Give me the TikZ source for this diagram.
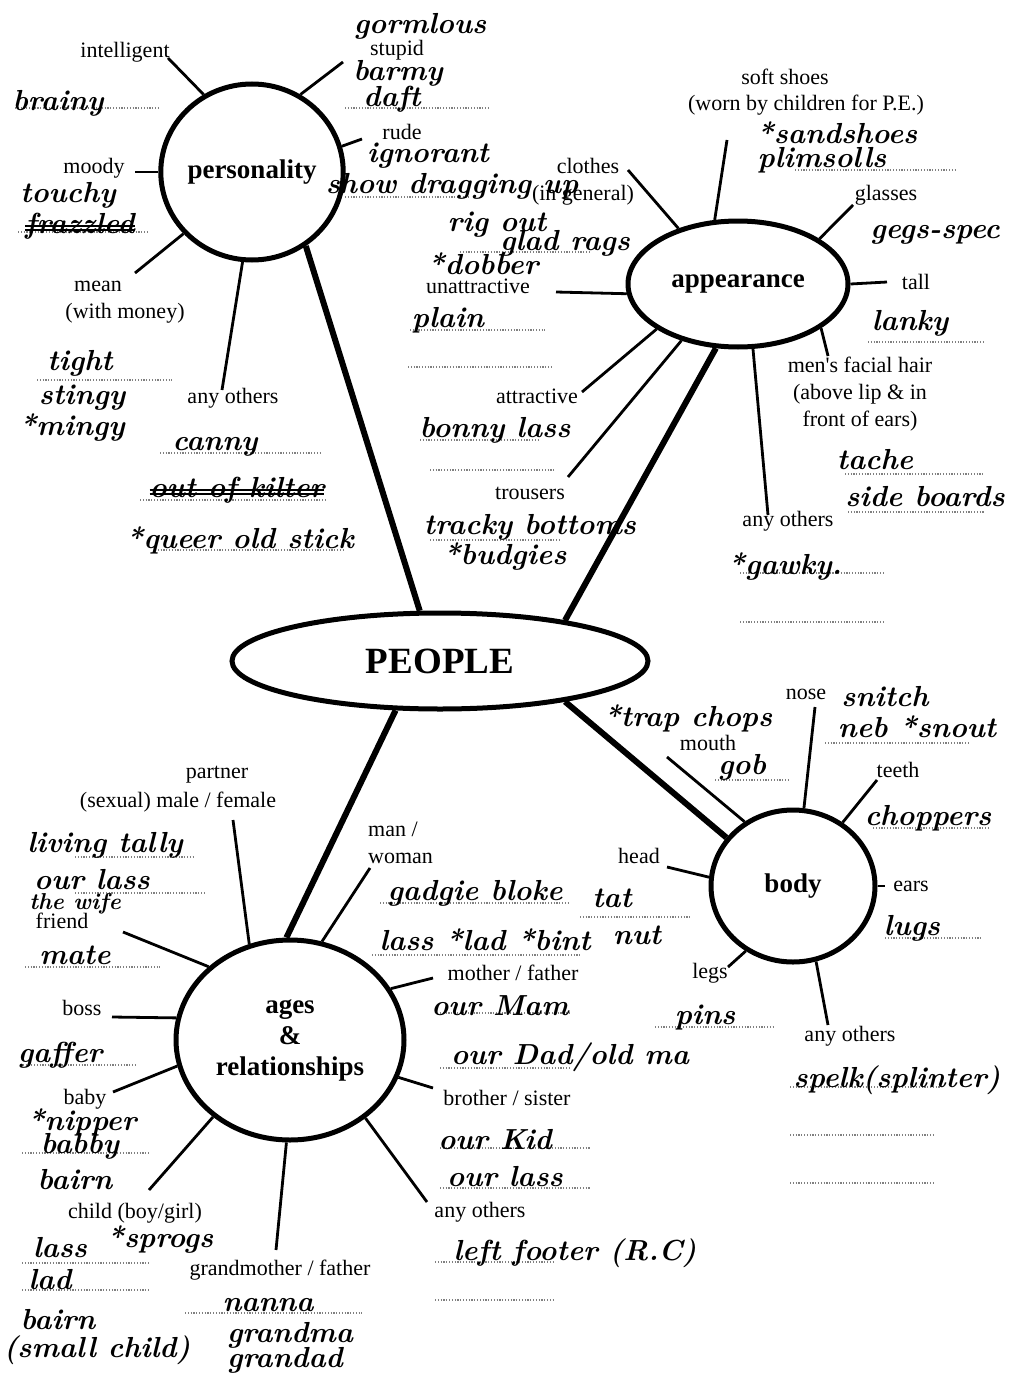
\documentclass[tikz,border=0pt]{standalone}
\usepackage{fontspec}
\newfontfamily\printfont{Liberation Serif}
\usetikzlibrary{shapes.geometric}

\tikzset{
  hub/.style={draw, ellipse, line width=5pt, inner sep=0pt, align=center,
    font=\printfont\bfseries\fontsize{27}{31}\selectfont},
  lbl/.style={inner sep=0pt, align=center, font=\printfont\fontsize{22}{27}\selectfont},
  hand/.style={inner sep=0pt, font=\bfseries\itshape\fontsize{29}{30}\selectfont},
  spoke/.style={line width=2.8pt},
  trunk/.style={line width=6pt},
  answer/.style={line width=1.3pt, black!50, dash pattern=on 1.2pt off 1.6pt},
  strike/.style={line width=2.2pt},
}

\begin{document}
\begin{tikzpicture}[x=1pt, y=-1pt]

  % page with its margins
  \useasboundingbox[fill=white] (0,0) rectangle (1015,1378);

  % the five ovals
  \node[hub, minimum width=176pt, minimum height=176pt] (persona) at (252,172) {personality};
  \node[hub, minimum width=220pt, minimum height=126pt] (appear) at (738,284) {appearance};
  \node[hub, minimum width=416pt, minimum height=96pt,
    font=\printfont\bfseries\fontsize{37}{40}\selectfont] (people) at (440,661) {PEOPLE};
  \node[hub, minimum width=164pt, minimum height=152pt] (body) at (793,886) {body};
  \node[hub, minimum width=228pt, minimum height=200pt] (ages) at (290,1040) {ages\\\&\\relationships};

  % thick links from PEOPLE
  \draw[trunk] (people.112) -- (persona.306);
  \draw[trunk] (people.18)  -- (appear.251);
  \draw[trunk] (people.342) -- (body.144);
  \draw[trunk] (people.228) -- (ages.92);

  % free ends of the thin spokes
  \coordinate (c-intel)   at (168,58);
  \coordinate (c-stupid)  at (343,62);
  \coordinate (c-rude)    at (362,139);
  \coordinate (c-moody)   at (135,172);
  \coordinate (c-mean)    at (135,273);
  \coordinate (c-pothers) at (222,390);
  \coordinate (c-soft)    at (727,140);
  \coordinate (c-clothes) at (628,170);
  \coordinate (c-glasses) at (853,205);
  \coordinate (c-tall)    at (887,282);
  \coordinate (c-unattr)  at (556,292);
  \coordinate (c-facial)  at (828,356);
  \coordinate (c-aothers) at (768,515);
  \coordinate (c-attr)    at (582,392);
  \coordinate (c-trous)   at (568,477);
  \coordinate (c-nose)    at (815,707);
  \coordinate (c-mouth)   at (667,757);
  \coordinate (c-teeth)   at (877,780);
  \coordinate (c-head)    at (667,867);
  \coordinate (c-ears)    at (885,886);
  \coordinate (c-legs)    at (728,967);
  \coordinate (c-bothers) at (828,1025);
  \coordinate (c-partner) at (233,820);
  \coordinate (c-man)     at (370,868);
  \coordinate (c-friend)  at (123,932);
  \coordinate (c-boss)    at (112,1017);
  \coordinate (c-mother)  at (433,978);
  \coordinate (c-brother) at (433,1088);
  \coordinate (c-baby)    at (113,1092);
  \coordinate (c-child)   at (149,1190);
  \coordinate (c-grand)   at (276,1250);
  \coordinate (c-rothers) at (427,1202);

  % thin spokes
  \foreach \hub/\ang/\tip in {persona/122/c-intel, persona/58/c-stupid, persona/16/c-rude,
      persona/180/c-moody, persona/222/c-mean, persona/264/c-pothers,
      appear/110/c-soft, appear/137/c-clothes, appear/29/c-glasses, appear/0/c-tall,
      appear/185/c-unattr, appear/332/c-facial, appear/283/c-aothers,
      appear/209/c-attr, appear/225/c-trous,
      body/82/c-nose, body/127/c-mouth, body/52/c-teeth, body/174/c-head,
      body/0/c-ears, body/234/c-legs, body/287/c-bothers,
      ages/113/c-partner, ages/72/c-man, ages/138/c-friend, ages/169/c-boss,
      ages/27/c-mother, ages/341/c-brother, ages/193/c-baby, ages/225/c-child,
      ages/268/c-grand, ages/314/c-rothers}
    \draw[spoke] (\hub.\ang) -- (\tip);

  % printed prompts: personality
  \node[lbl] (intel)   at (125,52)  {intelligent};
  \node[lbl] (stupid)  at (397,50)  {stupid};
  \node[lbl] (rude)    at (402,132) {rude};
  \node[lbl] (moody)   at (94,168)  {moody};
  \node[lbl] (mean)    at (98,286)  {mean};
  \node[lbl] (money)   at (125,313) {(with money)};
  \node[lbl] (pothers) at (233,398) {any others};

  % printed prompts: appearance
  \node[lbl] (soft)    at (785,77)  {soft shoes};
  \node[lbl] (worn)    at (806,105) {(worn by children for P.E.)};
  \node[lbl] (clothes) at (588,166) {clothes};
  \node[lbl] (general) at (583,195) {(in general)};
  \node[lbl] (glasses) at (886,195) {glasses};
  \node[lbl] (tall)    at (916,282) {tall};
  \node[lbl] (unattr)  at (478,286) {unattractive};
  \node[lbl] (facial)  at (860,394) {men's facial hair\\(above lip \& in\\front of ears)};
  \node[lbl] (attr)    at (537,396) {attractive};
  \node[lbl] (trous)   at (530,493) {trousers};
  \node[lbl] (aothers) at (788,521) {any others};

  % printed prompts: body
  \node[lbl] (nose)    at (806,694)  {nose};
  \node[lbl] (mouth)   at (708,743)  {mouth};
  \node[lbl] (teeth)   at (898,770)  {teeth};
  \node[lbl] (head)    at (639,856)  {head};
  \node[lbl] (ears)    at (911,886)  {ears};
  \node[lbl] (legs)    at (710,973)  {legs};
  \node[lbl] (bothers) at (850,1036) {any others};

  % printed prompts: ages & relationships
  \node[lbl] (partner) at (217,775)  {partner};
  \node[lbl] (sexual)  at (178,802)  {(sexual) male / female};
  \node[lbl, anchor=west, align=left] (man) at (368,843) {man /\\woman};
  \node[lbl] (friend)  at (62,921)   {friend};
  \node[lbl] (boss)    at (82,1008)  {boss};
  \node[lbl] (mother)  at (513,973)  {mother / father};
  \node[lbl] (brother) at (507,1098) {brother / sister};
  \node[lbl] (baby)    at (85,1099)  {baby};
  \node[lbl] (child)   at (135,1213) {child (boy/girl)};
  \node[lbl] (grand)   at (280,1270) {grandmother / father};
  \node[lbl] (rothers) at (480,1212) {any others};

  % dotted answer lines
  \foreach \xa/\xb/\yy in {15/158/108, 345/490/108, 345/470/197, 18/148/232, 37/172/380,
      160/320/453, 140/325/500, 155/345/550,
      795/955/170, 460/590/252, 410/545/330, 408/553/367, 868/985/342, 420/540/440,
      430/555/470, 430/560/540, 845/983/474, 848/985/512, 740/885/573, 740/885/622,
      715/790/780, 825/970/743, 873/990/828, 885/982/938, 655/775/1027,
      790/940/1087, 790/935/1135, 790/935/1183,
      75/195/857, 75/205/893, 25/160/967, 20/135/1065, 22/150/1153, 22/150/1263,
      22/150/1290, 185/362/1313, 380/570/903, 580/690/917, 372/580/955,
      440/570/1013, 440/570/1068, 440/590/1148, 440/590/1188, 435/555/1262, 435/555/1300}
    \draw[answer] (\xa,\yy) -- (\xb,\yy);

  % handwritten answers: personality
  \node[hand] (gormlous) at (420,26)  {gormlous};
  \node[hand] (barmy)    at (398,73)  {barmy};
  \node[hand] (daft)     at (392,99)  {daft};
  \node[hand] (brainy)   at (58,103)  {brainy};
  \node[hand] (ignorant) at (428,156) {ignorant};
  \node[hand] (showdrag) at (452,186) {show dragging up};
  \node[hand] (touchy)   at (68,195)  {touchy};
  \node[hand] (frazzled) at (80,226)  {frazzled};
  \node[hand] (tight)    at (80,363)  {tight};
  \node[hand] (stingy)   at (82,398)  {stingy};
  \node[hand] (mingy)    at (72,428)  {*mingy};
  \node[hand] (canny)    at (215,447) {canny};
  \node[hand] (kilter)   at (237,490) {out of kilter};
  \node[hand] (queer)    at (240,540) {*queer old stick};
  \draw[strike] (frazzled.west) -- (frazzled.east);
  \draw[strike] ([yshift=-4pt]frazzled.west) -- ([yshift=-4pt]frazzled.east);
  \draw[strike] (kilter.west) -- (kilter.east);
  \draw[strike] ([yshift=-4pt]kilter.west) -- ([yshift=-4pt]kilter.east);

  % handwritten answers: appearance
  \node[hand] (sandshoes)  at (837,133) {*sandshoes};
  \node[hand] (plimsolls)  at (822,160) {plimsolls};
  \node[hand] (rigout)     at (497,225) {rig out};
  \node[hand] (gladrags)   at (565,243) {glad rags};
  \node[hand] (dobber)     at (483,264) {*dobber};
  \node[hand] (gegs)       at (935,235) {gegs-spec};
  \node[hand] (plain)      at (448,320) {plain};
  \node[hand] (lanky)      at (910,323) {lanky};
  \node[hand] (bonny)      at (495,430) {bonny lass};
  \node[hand] (tracky)     at (530,527) {tracky bottoms};
  \node[hand] (budgies)    at (505,557) {*budgies};
  \node[hand] (tache)      at (875,460) {tache};
  \node[hand] (sideboards) at (925,497) {side boards};
  \node[hand] (gawky)      at (785,567) {*gawky.};

  % handwritten answers: body
  \node[hand] (trap)     at (688,718)  {*trap chops};
  \node[hand] (gob)      at (742,767)  {gob};
  \node[hand] (snitch)   at (885,697)  {snitch};
  \node[hand] (neb)      at (917,727)  {neb *snout};
  \node[hand] (choppers) at (928,818)  {choppers};
  \node[hand] (lugs)     at (912,928)  {lugs};
  \node[hand] (pins)     at (705,1018) {pins};
  \node[hand] (spelk)    at (897,1080) {spelk(splinter)};

  % handwritten answers: ages & relationships
  \node[hand] (living)     at (105,845)  {living tally};
  \node[hand] (ourlass)    at (92,880)   {our lass};
  \node[hand, font=\bfseries\itshape\fontsize{23}{24}\selectfont] (wife) at (75,904) {the wife};
  \node[hand] (mate)       at (75,955)   {mate};
  \node[hand] (gaffer)     at (60,1055)  {gaffer};
  \node[hand] (nipper)     at (82,1122)  {*nipper};
  \node[hand] (babby)      at (80,1146)  {babby};
  \node[hand] (bairn)      at (75,1180)  {bairn};
  \node[hand] (lass)       at (60,1248)  {lass};
  \node[hand] (sprogs)     at (160,1240) {*sprogs};
  \node[hand] (lad)        at (50,1280)  {lad};
  \node[hand] (bairnb)     at (58,1320)  {bairn};
  \node[hand] (smallchild) at (97,1350)  {(small child)};
  \node[hand] (nanna)      at (268,1305) {nanna};
  \node[hand] (grandma)    at (290,1335) {grandma};
  \node[hand] (grandad)    at (285,1360) {grandad};
  \node[hand] (gadgie)     at (475,893)  {gadgie bloke};
  \node[hand] (tat)        at (612,898)  {tat};
  \node[hand] (lasslad)    at (485,940)  {lass *lad *bint};
  \node[hand] (nut)        at (637,935)  {nut};
  \node[hand] (mam)        at (500,1006) {our Mam};
  \node[hand] (dad)        at (570,1057) {our Dad/old ma};
  \node[hand] (kid)        at (495,1140) {our Kid};
  \node[hand] (ourlassb)   at (505,1177) {our lass};
  \node[hand] (footer)     at (575,1253) {left footer (R.C)};

\end{tikzpicture}
\end{document}
